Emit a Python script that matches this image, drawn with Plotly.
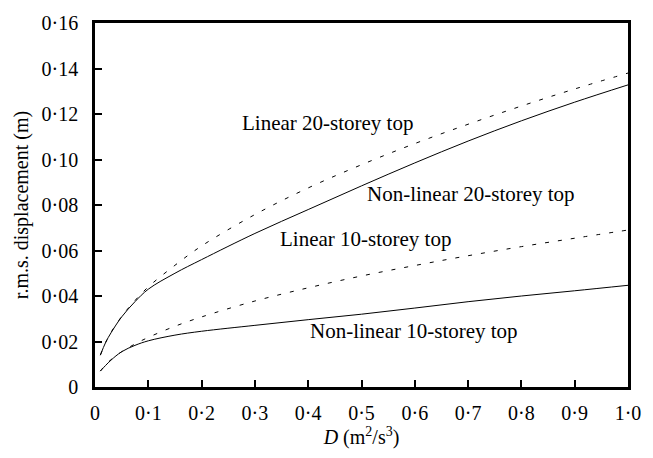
import plotly.graph_objects as go

# Excitation intensity D (m^2/s^3)
D = [0.01, 0.02, 0.03, 0.05, 0.075, 0.1, 0.15, 0.2, 0.3, 0.4, 0.5, 0.6, 0.7, 0.8, 0.9, 1.0]

# r.m.s. top displacement (m)
linear_20 = [0.0140, 0.0196, 0.0240, 0.0310, 0.0380, 0.0440, 0.0535, 0.0620, 0.0758, 0.0875,
             0.0977, 0.1070, 0.1155, 0.1235, 0.1310, 0.1380]
nonlinear_20 = [0.0140, 0.0196, 0.0238, 0.0308, 0.0375, 0.0430, 0.0500, 0.0560, 0.0675, 0.0780,
                0.0884, 0.0985, 0.1081, 0.1170, 0.1252, 0.1328]
linear_10 = [0.0070, 0.0098, 0.0120, 0.0155, 0.0189, 0.0218, 0.0267, 0.0308, 0.0378, 0.0436,
             0.0488, 0.0534, 0.0577, 0.0617, 0.0654, 0.0690]
nonlinear_10 = [0.0070, 0.0095, 0.0118, 0.0155, 0.0183, 0.0203, 0.0228, 0.0245, 0.0271, 0.0296,
                0.0320, 0.0347, 0.0375, 0.0400, 0.0423, 0.0447]

x_ticks = [0, 0.1, 0.2, 0.3, 0.4, 0.5, 0.6, 0.7, 0.8, 0.9, 1.0]
x_tick_text = ["0", "0·1", "0·2", "0·3", "0·4", "0·5", "0·6", "0·7", "0·8", "0·9", "1·0"]
y_ticks = [0, 0.02, 0.04, 0.06, 0.08, 0.10, 0.12, 0.14, 0.16]
y_tick_text = ["0", "0·02", "0·04", "0·06", "0·08", "0·10", "0·12", "0·14", "0·16"]

# Curve labels: (text, D, displacement)
labels = [
    ("Linear 20-storey top", 0.437, 0.1161),
    ("Non-linear 20-storey top", 0.705, 0.0847),
    ("Linear 10-storey top", 0.508, 0.0649),
    ("Non-linear 10-storey top", 0.599, 0.0245),
]

FONT = "Liberation Serif, Times New Roman, serif"

fig = go.Figure()
dash_style = "4px,9px"
for ys, dashed in [(linear_20, True), (nonlinear_20, False), (linear_10, True), (nonlinear_10, False)]:
    fig.add_trace(go.Scatter(
        x=D, y=ys, mode="lines", line_shape="spline",
        line=dict(color="black", width=1, dash=dash_style if dashed else "solid"),
        showlegend=False, hoverinfo="skip",
    ))

for text, xv, yv in labels:
    fig.add_annotation(x=xv, y=yv, text=text, showarrow=False,
                       font=dict(family=FONT, size=21, color="black"),
                       xanchor="center", yanchor="middle")

fig.update_layout(
    width=653, height=458,
    margin=dict(l=95, r=17, t=15, b=71),
    paper_bgcolor="white", plot_bgcolor="white",
    font=dict(family=FONT, size=20, color="black"),
)
fig.update_xaxes(
    range=[0, 1.0], tickvals=x_ticks, ticktext=x_tick_text,
    ticks="inside", ticklen=7, tickwidth=2, tickcolor="black",
    showline=True, linewidth=2.5, linecolor="black", mirror=True,
    showgrid=False, zeroline=False, ticklabelstandoff=6,
    title=dict(text="<i>D</i> (m<sup>2</sup>/s<sup>3</sup>)", standoff=8,
               font=dict(family=FONT, size=20)),
)
fig.update_yaxes(
    range=[0, 0.16], tickvals=y_ticks, ticktext=y_tick_text,
    ticks="inside", ticklen=7, tickwidth=2, tickcolor="black",
    showline=True, linewidth=2.5, linecolor="black", mirror=True,
    showgrid=False, zeroline=False, ticklabelstandoff=10,
    title=dict(text="r.m.s. displacement (m)", standoff=8,
               font=dict(family=FONT, size=20)),
)

fig.write_html("out.html")
